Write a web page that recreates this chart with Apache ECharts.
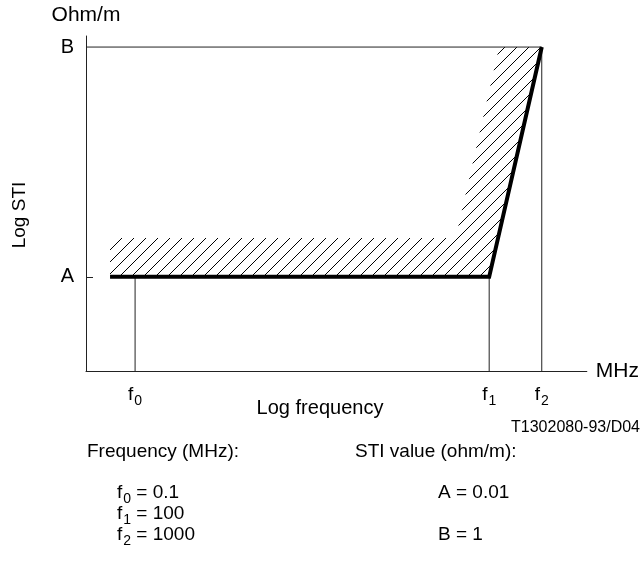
<!DOCTYPE html>
<html><head><meta charset="utf-8">
<script src="https://cdn.jsdelivr.net/npm/echarts@6/dist/echarts.min.js"></script>
<style>html,body{margin:0;padding:0;background:#fff}#c{width:642px;height:569px}</style>
</head><body><div id="c"></div>
<script>
// Schematic (not to scale) log-log axes, arbitrary units 0..100
const xRange = [0, 100];
const yRange = [0, 100];
const freqNames = ['0', '1', '2'];          // subscripts of f
const freqPos = [9.8, 80.5, 91.0];          // f0, f1, f2 along log-frequency axis
const freqValues = ['0.1', '100', '1000'];  // MHz
const stiNames = ['A', 'B'];
const stiPos = [28.1, 96.7];                // A, B along log-STI axis
const stiValues = ['0.01', '1'];            // ohm/m
const limitX = [4.8, 80.5, 91.0];           // limit line (thick)
const limitY = [28.1, 28.1, 96.7];
const hatchX = [4.8, 4.8, 73.8, 82.5, 91.0, 80.5]; // hatched (forbidden) zone
const hatchY = [28.1, 39.7, 39.7, 96.7, 96.7, 28.1];

const FONT = "'Liberation Sans', Arial, Helvetica, sans-serif";
const LINE = '#222';

function hatchPattern(s) {
  const c = document.createElement('canvas');
  c.width = s; c.height = s;
  const g = c.getContext('2d');
  g.strokeStyle = '#000'; g.lineWidth = 1;
  g.beginPath();
  for (const o of [-s, 0, s]) { g.moveTo(o - 1, s + 1); g.lineTo(o + s + 1, -1); }
  g.stroke();
  return c;
}
const pattern = hatchPattern(12);

const subRich = {
  f: { fontSize: 19, fontFamily: FONT, color: '#000', verticalAlign: 'top', lineHeight: 22 },
  s: { fontSize: 14, fontFamily: FONT, color: '#000', verticalAlign: 'top', padding: [9, 0, 0, 1] },
  e: { fontSize: 19, fontFamily: FONT, color: '#000', verticalAlign: 'top', lineHeight: 22 }
};

const chart = echarts.init(document.getElementById('c'));

const graphics = [
  { type: 'text', x: 20, y: 215, rotation: Math.PI / 2,
    style: { text: 'Log STI', font: '19px ' + FONT, fill: '#000', align: 'center', verticalAlign: 'middle' } },
  { type: 'text', x: 320, y: 408,
    style: { text: 'Log frequency', font: '20px ' + FONT, fill: '#000', align: 'center', verticalAlign: 'middle' } },
  { type: 'text', x: 640, y: 428,
    style: { text: 'T1302080-93/D04', font: '16px ' + FONT, fill: '#000', align: 'right', verticalAlign: 'middle' } },
  { type: 'text', x: 87, y: 452,
    style: { text: 'Frequency (MHz):', font: '19px ' + FONT, fill: '#000', align: 'left', verticalAlign: 'middle' } },
  { type: 'text', x: 355, y: 452,
    style: { text: 'STI value (ohm/m):', font: '19px ' + FONT, fill: '#000', align: 'left', verticalAlign: 'middle' } }
];
const rowY = [495, 516, 537];
freqNames.forEach((n, i) => {
  graphics.push({ type: 'text', x: 117, y: rowY[i],
    style: { text: '{f|f}{s|' + n + '}{e| = ' + freqValues[i] + '}', rich: subRich, align: 'left', verticalAlign: 'middle' } });
});
const stiRow = [0, 2];
stiNames.forEach((n, i) => {
  graphics.push({ type: 'text', x: 438, y: rowY[stiRow[i]] - 2,
    style: { text: n + ' = ' + stiValues[i], font: '19px ' + FONT, fill: '#000', align: 'left', verticalAlign: 'middle' } });
});

chart.setOption({
  animation: false,
  textStyle: { fontFamily: FONT, color: '#000' },
  grid: { left: 86, top: 36, right: 54, bottom: 198, containLabel: false },
  xAxis: {
    type: 'value', min: xRange[0], max: xRange[1],
    axisLine: { show: true, lineStyle: { color: LINE, width: 1 } },
    axisTick: { show: false },
    splitLine: { show: false },
    axisLabel: {
      customValues: freqPos, margin: 14,
      formatter: v => '{f|f}{s|' + freqNames[freqPos.indexOf(v)] + '}',
      rich: subRich
    },
    name: 'MHz', nameLocation: 'end', nameGap: 9,
    nameTextStyle: { fontSize: 21, color: '#000', fontFamily: FONT }
  },
  yAxis: {
    type: 'value', min: yRange[0], max: yRange[1],
    axisLine: { show: true, lineStyle: { color: LINE, width: 1 } },
    axisTick: { show: true, inside: true, length: 7, customValues: [stiPos[0]], lineStyle: { color: LINE } },
    splitLine: { show: false },
    axisLabel: {
      customValues: stiPos, margin: 12, fontSize: 20, color: '#000', fontFamily: FONT,
      formatter: v => stiNames[stiPos.indexOf(v)]
    },
    name: 'Ohm/m', nameLocation: 'end', nameGap: 10,
    nameTextStyle: { fontSize: 21, color: '#000', fontFamily: FONT, align: 'center' }
  },
  graphic: graphics,
  series: [
    {
      type: 'custom', silent: true, z: 1,
      data: [[hatchX[0], hatchY[0]]],
      renderItem: (params, api) => {
        const pts = hatchX.map((x, i) => api.coord([x, hatchY[i]]));
        return { type: 'polygon', shape: { points: pts },
          style: { fill: { image: pattern, repeat: 'repeat' }, stroke: null } };
      }
    },
    { type: 'line', silent: true, symbol: 'none', z: 2,
      lineStyle: { color: LINE, width: 1 },
      data: [[xRange[0], stiPos[1]], [freqPos[2], stiPos[1]], [freqPos[2], yRange[0]]] },
    { type: 'line', silent: true, symbol: 'none', z: 2,
      lineStyle: { color: LINE, width: 1 },
      data: [[freqPos[1], yRange[0]], [freqPos[1], stiPos[0]]] },
    { type: 'line', silent: true, symbol: 'none', z: 2,
      lineStyle: { color: LINE, width: 1 },
      data: [[freqPos[0], yRange[0]], [freqPos[0], stiPos[0]]] },
    { type: 'line', silent: true, symbol: 'none', z: 3,
      lineStyle: { color: '#000', width: 4, join: 'miter' },
      data: limitX.map((x, i) => [x, limitY[i]]) }
  ]
});
</script>
</body></html>
